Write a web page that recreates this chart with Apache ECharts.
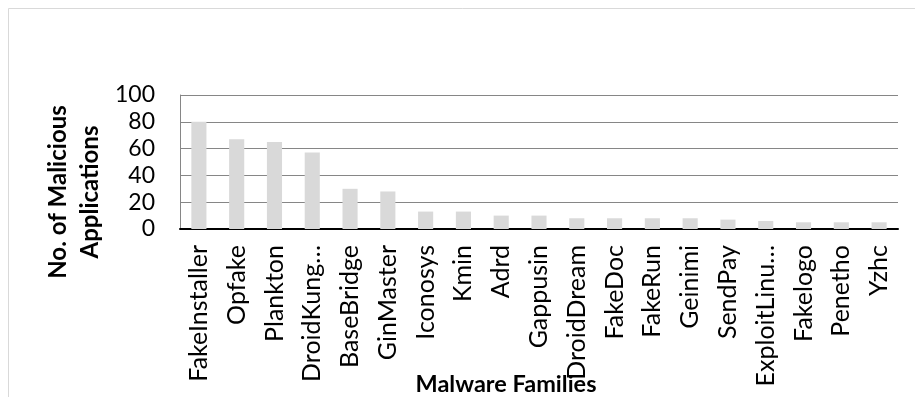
<!DOCTYPE html>
<html>
<head>
<meta charset="utf-8">
<script src="https://cdn.jsdelivr.net/npm/echarts@6/dist/echarts.min.js"></script>
<style>
  html, body { margin: 0; padding: 0; background: #ffffff; }
  #chart { width: 915px; height: 397px; }
</style>
</head>
<body>
<div id="chart"></div>
<script>
// Malware families and the number of malicious applications in each
const families = [
  'FakeInstaller', 'Opfake', 'Plankton', 'DroidKung\u2026', 'BaseBridge',
  'GinMaster', 'Iconosys', 'Kmin', 'Adrd', 'Gappusin', 'DroidDream',
  'FakeDoc', 'FakeRun', 'Geinimi', 'SendPay', 'ExploitLinu\u2026',
  'Fakelogo', 'Penetho', 'Yzhc'
];
const appCounts = [80, 67, 65, 57, 30, 28, 13, 13, 10, 10, 8, 8, 8, 8, 7, 6, 5, 5, 5];
const yTicks = [0, 20, 40, 60, 80, 100];

const FONT = 'Lato, "Open Sans", sans-serif';
const chart = echarts.init(document.getElementById('chart'), null, { renderer: 'canvas' });

chart.setOption({
  animation: false,
  backgroundColor: '#ffffff',
  grid: { left: 180, right: 17, top: 95, bottom: 168, containLabel: false },
  xAxis: {
    type: 'category',
    data: families,
    axisLine: { show: true, lineStyle: { color: '#000000', width: 2 } },
    axisTick: { show: false },
    axisLabel: {
      rotate: 90,
      interval: 0,
      margin: 16,
      color: '#000000',
      fontFamily: FONT,
      fontSize: 25
    }
  },
  yAxis: {
    type: 'value',
    min: yTicks[0],
    max: yTicks[yTicks.length - 1],
    interval: yTicks[1] - yTicks[0],
    axisLine: { show: true, lineStyle: { color: '#868686', width: 1 } },
    axisTick: { show: false },
    splitLine: { show: true, lineStyle: { color: '#868686', width: 1 } },
    axisLabel: {
      margin: 25,
      color: '#000000',
      fontFamily: FONT,
      fontSize: 23
    }
  },
  series: [{
    type: 'bar',
    data: appCounts,
    barWidth: '40%',
    itemStyle: { color: '#d9d9d9' }
  }],
  graphic: [
    {
      type: 'rect',
      silent: true,
      shape: { x: 8.5, y: 8.5, width: 1200, height: 1200 },
      style: { fill: 'none', stroke: '#d9d9d9', lineWidth: 1 }
    },
    {
      type: 'text',
      x: 74,
      y: 192,
      rotation: Math.PI / 2,
      style: {
        text: 'No. of Malicious\nApplications',
        align: 'center',
        verticalAlign: 'middle',
        lineHeight: 32,
        fill: '#000000',
        font: 'bold 24px ' + FONT
      }
    },
    {
      type: 'text',
      x: 506,
      y: 384,
      style: {
        text: 'Malware Families',
        align: 'center',
        verticalAlign: 'middle',
        fill: '#000000',
        font: 'bold 23.5px ' + FONT
      }
    }
  ]
});
</script>
</body>
</html>
